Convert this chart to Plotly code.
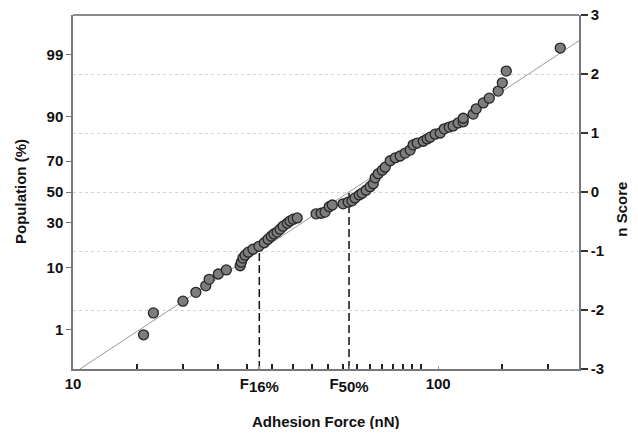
import math
from statistics import NormalDist
import plotly.graph_objects as go

# ---- data ----
force_nN = [15.6, 16.6, 20.0, 21.7, 23.1, 23.6, 25.0, 26.3, 28.7, 28.9,
            29.2, 29.6, 30.2, 31.1, 32.3, 33.4, 34.2, 34.9, 35.5, 36.2,
            36.9, 37.6, 38.6, 39.3, 40.1, 41.1, 46.3, 47.8, 49.0, 50.3,
            51.3, 54.9, 56.7, 58.1, 59.2, 60.8, 61.9, 63.5, 65.1, 66.4,
            67.2, 68.5, 70.3, 71.6, 73.9, 76.3, 78.7, 81.2, 83.8, 85.4,
            87.6, 91.0, 93.3, 95.1, 98.1, 101.3, 103.9, 107.2, 109.9, 113.4,
            117.1, 117.1, 124.7, 127.1, 132.9, 138.0, 146.0, 149.8, 153.6, 215.9]
n_score = [-2.42, -2.05, -1.85, -1.70, -1.59, -1.48, -1.39, -1.32, -1.25, -1.19,
           -1.12, -1.07, -1.02, -0.97, -0.92, -0.86, -0.80, -0.75, -0.71, -0.68,
           -0.63, -0.58, -0.53, -0.49, -0.46, -0.44, -0.37, -0.36, -0.34, -0.25,
           -0.22, -0.20, -0.17, -0.15, -0.10, -0.05, -0.02, 0.03, 0.09, 0.14,
           0.24, 0.31, 0.37, 0.42, 0.53, 0.58, 0.61, 0.66, 0.71, 0.80,
           0.83, 0.86, 0.90, 0.93, 0.98, 1.00, 1.07, 1.10, 1.12, 1.17,
           1.19, 1.25, 1.32, 1.41, 1.51, 1.59, 1.71, 1.85, 2.05, 2.44]

# log-normal fit: median force and n-score per decade
fit_F50 = 57.0
fit_slope = 4.07

population_ticks = [1, 10, 30, 50, 70, 90, 99]
nscore_ticks = [-3, -2, -1, 0, 1, 2, 3]
minor_force_ticks = [15, 20, 25, 30, 35, 40, 45, 50, 55, 60, 65, 70, 75, 80, 85, 90, 150, 200]
x_max = 243

# ---- derived ----
def n_of_F(F):
    return fit_slope * (math.log10(F) - math.log10(fit_F50))

def F_of_n(n):
    return 10 ** (math.log10(fit_F50) + n / fit_slope)

F16 = F_of_n(-1)
F_start = F_of_n(-3)
fit_x = [F_start, x_max]
fit_y = [n_of_F(v) for v in fit_x]

pop_pos = [NormalDist().inv_cdf(p / 100) for p in population_ticks]

fig = go.Figure()

fig.add_trace(go.Scatter(x=fit_x, y=fit_y, mode="lines",
                         line=dict(color="#9a9a9a", width=1), hoverinfo="skip",
                         showlegend=False))
fig.add_trace(go.Scatter(x=[F16, F16], y=[-3, -1], mode="lines",
                         line=dict(color="#111", width=1.5, dash="8px,4px"),
                         showlegend=False))
fig.add_trace(go.Scatter(x=[fit_F50, fit_F50], y=[-3, 0], mode="lines",
                         line=dict(color="#111", width=1.5, dash="8px,4px"),
                         showlegend=False))
fig.add_trace(go.Scatter(x=force_nN, y=n_score, mode="markers",
                         marker=dict(size=10, color="#7d7d7d",
                                     line=dict(color="#262626", width=1.3)),
                         showlegend=False))
fig.add_trace(go.Scatter(x=[fit_F50], y=[0], yaxis="y2", mode="markers",
                         marker=dict(opacity=0), showlegend=False, hoverinfo="skip"))

FAM = "Liberation Sans, Arial, sans-serif"
bold = dict(family=FAM, size=15, color="#111")
sub = "<sub><span style='font-size:15px'>{}</span></sub>"

# page body has an 8px margin; keep the figure inside the window
fig.update_layout(
    width=622, height=421,
    margin=dict(l=65, r=51, t=7, b=60),
    paper_bgcolor="white", plot_bgcolor="white",
    font=bold,
    xaxis=dict(
        type="log", range=[1, math.log10(x_max)], automargin=False,
        tickvals=[10, F16, fit_F50, 100],
        ticktext=["<b>10</b>",
                  "<b>F" + sub.format("16%") + "</b>",
                  "<b>F" + sub.format("50%") + "</b>",
                  "<b>100</b>"],
        ticks="inside", ticklen=3, tickcolor="#999", tickwidth=1,
        ticklabeloverflow="allow",
        showgrid=False, zeroline=False,
        showline=True, linecolor="#777", linewidth=1.5,
        minor=dict(tickvals=minor_force_ticks, ticks="inside", ticklen=5,
                   tickcolor="#222", tickwidth=2, showgrid=False),
        tickfont=bold,
    ),
    yaxis=dict(
        range=[-3, 3], automargin=False,
        tickvals=pop_pos,
        ticktext=[f"<b>{p}</b>" for p in population_ticks],
        ticks="outside", ticklen=5, tickcolor="#777",
        ticklabeloverflow="allow",
        showgrid=False, zeroline=False,
        showline=True, linecolor="#777", linewidth=1.5,
        tickfont=bold,
    ),
    yaxis2=dict(
        range=[-3, 3], overlaying="y", side="right", automargin=False,
        tickvals=nscore_ticks,
        ticktext=[f"<b>{v}</b>" for v in nscore_ticks],
        ticks="outside", ticklen=7, tickcolor="#333", tickwidth=2,
        ticklabeloverflow="allow",
        showgrid=True, gridcolor="#d4d4d4", griddash="dot", gridwidth=1,
        zeroline=False,
        showline=True, linecolor="#777", linewidth=1.5,
        tickfont=bold,
    ),
    shapes=[dict(type="line", xref="paper", yref="paper", x0=0, x1=1, y0=1, y1=1,
                 line=dict(color="#666", width=1.5))],
    annotations=[
        dict(text="<b>Adhesion Force (nN)</b>", xref="paper", yref="paper",
             x=0.5, y=0, yshift=-52, showarrow=False, font=bold,
             xanchor="center", yanchor="middle"),
        dict(text="<b>Population (%)</b>", xref="paper", yref="paper",
             x=0, y=0.5, xshift=-53, textangle=-90, showarrow=False, font=bold,
             xanchor="center", yanchor="middle"),
        dict(text="<b>n Score</b>", xref="paper", yref="paper",
             x=1, y=0.45, xshift=43, textangle=-90, showarrow=False, font=bold,
             xanchor="center", yanchor="middle"),
    ],
)

fig.write_html("out.html")
